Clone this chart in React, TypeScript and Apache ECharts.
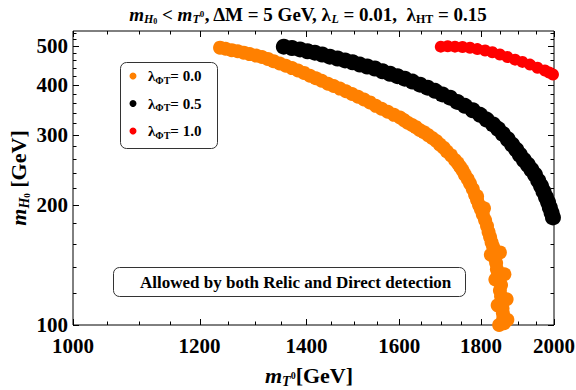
import React, { useEffect, useRef } from "react";
import * as echarts from "echarts";

// [m_T0 (GeV), m_H0 (GeV)]
const orangeData: number[][] = [
  [1236, 495], [1246, 492], [1257, 488], [1268, 485], [1279, 481], [1290, 477], [1302, 473], [1313, 469],
  [1324, 464], [1335, 458], [1347, 452], [1359, 446], [1371, 440], [1383, 434], [1395, 428], [1407, 421],
  [1419, 415], [1431, 409], [1444, 402], [1456, 397], [1469, 391], [1482, 385], [1495, 379], [1508, 373],
  [1521, 367], [1534, 361], [1547, 354], [1560, 348], [1574, 342], [1588, 336], [1602, 331], [1611, 326],
  [1620, 321], [1630, 317], [1639, 313], [1648, 308], [1658, 304], [1668, 299], [1678, 294], [1688, 289],
  [1697, 283], [1706, 278], [1714, 272], [1724, 266], [1734, 259], [1741, 254], [1747, 249], [1753, 244],
  [1759, 238], [1766, 232], [1772, 226], [1779, 219], [1785, 212], [1790, 206], [1795, 200], [1800, 195],
  [1805, 189], [1811, 183], [1816, 177], [1820, 171], [1824, 166], [1828, 161], [1832, 157], [1835, 152],
  [1837, 147], [1840, 143], [1842, 138], [1845, 134], [1848, 130], [1853, 126], [1850, 122], [1853, 118],
  [1856, 114], [1857, 110], [1858, 107], [1859, 104], [1861, 101], [1861, 96],
  [1826, 150], [1850, 152], [1838, 130], [1862, 134], [1844, 112], [1868, 116], [1848, 100], [1870, 103],
  [1808, 196], [1790, 210],
];

const blackData: number[][] = [
  [1355, 498], [1371, 494], [1387, 490], [1402, 485], [1417, 481], [1432, 476], [1448, 470], [1464, 465],
  [1480, 460], [1496, 455], [1512, 449], [1528, 444], [1545, 439], [1562, 432], [1579, 426], [1596, 420],
  [1613, 414], [1631, 407], [1649, 400], [1667, 393], [1685, 386], [1703, 378], [1722, 371], [1740, 362],
  [1759, 354], [1779, 345], [1798, 336], [1815, 327], [1832, 318], [1845, 310], [1858, 301], [1871, 292],
  [1883, 283], [1894, 275], [1904, 267], [1915, 259], [1926, 252], [1936, 245], [1946, 238], [1955, 230],
  [1963, 223], [1970, 216], [1977, 209], [1983, 203], [1988, 197], [1993, 191], [1997, 186], [2003, 180],
];

const redData: number[][] = [
  [1699, 498], [1716, 499], [1734, 498], [1753, 497], [1772, 495], [1791, 491], [1811, 487], [1830, 482],
  [1850, 476], [1870, 469], [1891, 462], [1911, 456], [1932, 449], [1953, 441], [1974, 434], [1986, 429],
  [1997, 424], [2005, 420],
];

const xMajor = [1000, 1200, 1400, 1600, 1800, 2000];
const xMinor = [1050, 1100, 1150, 1250, 1300, 1350, 1450, 1500, 1550, 1650, 1700, 1750, 1850, 1900, 1950];
const yMajor = [100, 200, 300, 400, 500];
const yMinor = [120, 140, 160, 180, 220, 240, 260, 280, 320, 340, 360, 380, 420, 440, 460, 480, 520, 540];
const lambdaValues = ["0.0", "0.5", "1.0"];
const seriesColors = ["#ff8000", "#000000", "#ff0000"];
const boxText = "Allowed by both Relic and Direct detection";

const FF = '"Liberation Serif", "Times New Roman", serif';

export default function App() {
  const ref = useRef<HTMLDivElement>(null);
  useEffect(() => {
    const chart = echarts.init(ref.current!, null, { renderer: "svg" });
    const L = 73, R = 554, T = 31, B = 325;
    const axisCommon = {
      axisLine: { show: false },
      axisTick: { show: false },
      axisLabel: { show: false },
      splitLine: { show: false },
      minorTick: { show: false },
    };
    const datasets = [orangeData, blackData, redData];
    const sizes = [14, 16, 12];
    chart.setOption({
      animation: false,
      grid: {
        left: L, top: T, width: R - L, height: B - T,
        show: true, borderColor: "#000", borderWidth: 1, backgroundColor: "transparent",
      },
      xAxis: { type: "log", logBase: 10, min: 1000, max: 2000, ...axisCommon },
      yAxis: { type: "log", logBase: 10, min: 100, max: 545, ...axisCommon },
      series: datasets.map((d, i) => ({
        type: "scatter",
        data: d,
        symbolSize: sizes[i],
        clip: true,
        itemStyle: { color: seriesColors[i], opacity: 1 },
        silent: true,
      })),
    });

    const xp = (v: number) => chart.convertToPixel({ xAxisIndex: 0 }, v) as number;
    const yp = (v: number) => chart.convertToPixel({ yAxisIndex: 0 }, v) as number;
    const g: any[] = [];
    const ln = (x1: number, y1: number, x2: number, y2: number) => ({
      type: "line", silent: true,
      shape: { x1, y1, x2, y2 },
      style: { stroke: "#000", lineWidth: 1 },
    });
    const bold = (size: number) => ({ fontFamily: FF, fontWeight: "bold", fontSize: size, fill: "#000" });

    xMajor.forEach((v) => {
      const x = Math.round(xp(v)) + 0.5;
      g.push(ln(x, B, x, B - 6), ln(x, T, x, T + 6));
      g.push({
        type: "text", x: xp(v), y: B + 10,
        style: { text: String(v), font: `bold 21px ${FF}`, fill: "#000", align: "center", verticalAlign: "top" },
      });
    });
    xMinor.forEach((v) => {
      const x = Math.round(xp(v)) + 0.5;
      g.push(ln(x, B, x, B - 3.5), ln(x, T, x, T + 3.5));
    });
    yMajor.forEach((v) => {
      const y = Math.round(yp(v)) + 0.5;
      g.push(ln(L, y, L + 6, y), ln(R, y, R - 6, y));
      g.push({
        type: "text", x: L - 5, y: yp(v),
        style: { text: String(v), font: `bold 21px ${FF}`, fill: "#000", align: "right", verticalAlign: "middle" },
      });
    });
    yMinor.forEach((v) => {
      const y = Math.round(yp(v)) + 0.5;
      g.push(ln(L, y, L + 3.5, y), ln(R, y, R - 3.5, y));
    });

    // Title
    g.push({
      type: "text", x: 308, y: 14,
      style: {
        text: "{m|m}{s|H}{ss|0}{n| < }{m|m}{s|T}{sp|0}{n|, ΔM = 5 GeV, λ}{s|L}{n| = 0.01,  λ}{sb|HT}{n| = 0.15}",
        align: "center", verticalAlign: "middle",
        rich: {
          m: { ...bold(19), fontStyle: "italic", lineHeight: 22 },
          n: { ...bold(19), lineHeight: 22 },
          s: { ...bold(12), fontStyle: "italic", lineHeight: 12, verticalAlign: "bottom" },
          sb: { ...bold(12), lineHeight: 12, verticalAlign: "bottom" },
          ss: { ...bold(8), lineHeight: 6, verticalAlign: "bottom" },
          sp: { ...bold(9), lineHeight: 10, verticalAlign: "middle" },
        },
      },
    });

    // X axis title
    g.push({
      type: "text", x: 309, y: 375,
      style: {
        text: "{m|m}{s|T}{sp|0}{n|[GeV]}",
        align: "center", verticalAlign: "middle",
        rich: {
          m: { ...bold(22), fontStyle: "italic", lineHeight: 26 },
          n: { ...bold(22), lineHeight: 26 },
          s: { ...bold(14), fontStyle: "italic", lineHeight: 14, verticalAlign: "bottom" },
          sp: { ...bold(10), lineHeight: 12, verticalAlign: "middle" },
        },
      },
    });

    // Y axis title
    g.push({
      type: "text", x: 18, y: 178, rotation: Math.PI / 2,
      style: {
        text: "{m|m}{s|H}{ss|0}{n| [GeV]}",
        align: "center", verticalAlign: "middle",
        rich: {
          m: { ...bold(22), fontStyle: "italic", lineHeight: 26 },
          n: { ...bold(22), lineHeight: 26 },
          s: { ...bold(14), fontStyle: "italic", lineHeight: 14, verticalAlign: "bottom" },
          ss: { ...bold(9), lineHeight: 7, verticalAlign: "bottom" },
        },
      },
    });

    // Legend box
    g.push({
      type: "rect", shape: { x: 120.5, y: 62.5, width: 97, height: 86, r: 6 },
      style: { fill: "#fff", stroke: "#333", lineWidth: 1 },
    });
    lambdaValues.forEach((lv, i) => {
      const cy = 76 + i * 27.5;
      g.push({ type: "circle", shape: { cx: 133, cy, r: 3.5 }, style: { fill: seriesColors[i] } });
      g.push({
        type: "text", x: 148, y: cy,
        style: {
          text: `{n|λ}{s|ΦT}{n|= ${lv}}`,
          align: "left", verticalAlign: "middle",
          rich: {
            n: { ...bold(15), lineHeight: 18 },
            s: { ...bold(10), lineHeight: 10, verticalAlign: "bottom" },
          },
        },
      });
    });

    // Annotation box
    g.push({
      type: "rect", shape: { x: 113.5, y: 267.5, width: 352, height: 29, r: 6 },
      style: { fill: "#fff", stroke: "#333", lineWidth: 1 },
    });
    g.push({
      type: "text", x: 140, y: 282,
      style: { text: boxText, font: `bold 17px ${FF}`, fill: "#000", align: "left", verticalAlign: "middle" },
    });

    chart.setOption({ graphic: { elements: g } });
    return () => chart.dispose();
  }, []);
  return (
    <div
      ref={ref}
      style={{ position: "fixed", left: 0, top: 0, width: 576, height: 390, background: "#fff" }}
    />
  );
}
